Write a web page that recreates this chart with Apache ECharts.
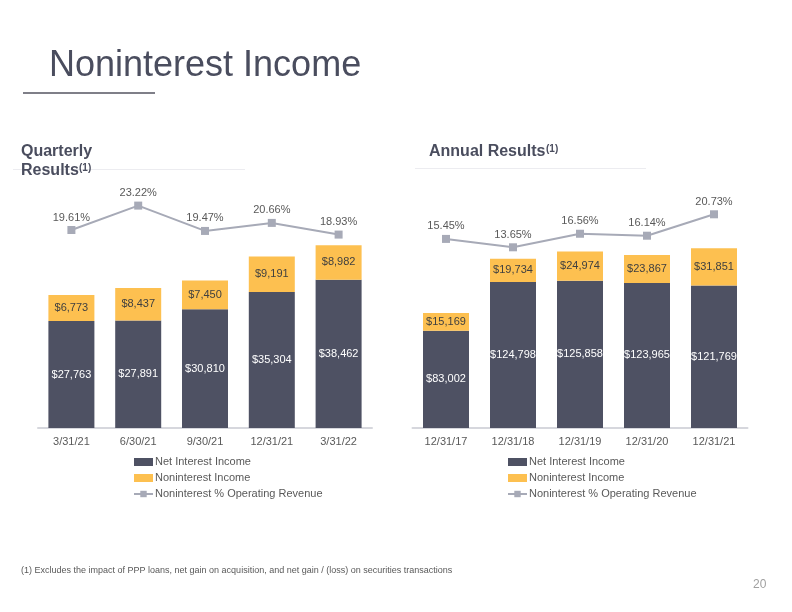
<!DOCTYPE html>
<html>
<head>
<meta charset="utf-8">
<script src="https://cdn.jsdelivr.net/npm/echarts@6/dist/echarts.min.js"></script>
<style>
html,body{margin:0;padding:0;background:#fff;}
#c{width:792px;height:612px;}
</style>
</head>
<body>
<div id="c"></div>
<script>
// Quarterly data
var qCategories = ['3/31/21', '6/30/21', '9/30/21', '12/31/21', '3/31/22'];
var qNetInterest = [27763, 27891, 30810, 35304, 38462];
var qNoninterest = [6773, 8437, 7450, 9191, 8982];
var qPct = [19.61, 23.22, 19.47, 20.66, 18.93];

// Annual data
var aCategories = ['12/31/17', '12/31/18', '12/31/19', '12/31/20', '12/31/21'];
var aNetInterest = [83002, 124798, 125858, 123965, 121769];
var aNoninterest = [15169, 19734, 24974, 23867, 31851];
var aPct = [15.45, 13.65, 16.56, 16.14, 20.73];

var seriesNames = ['Net Interest Income', 'Noninterest Income', 'Noninterest % Operating Revenue'];

var DARK = '#4E5163';
var YELLOW = '#FDC050';
var LINE = '#A7AAB7';
var TXT = '#595959';
var FONT = 'Liberation Sans, Arial, sans-serif';

function money(p) { return '$' + p.value.toLocaleString('en-US'); }
function pct(p) { return p.value.toFixed(2) + '%'; }

function xAxis(grid, cats) {
  return {
    type: 'category', gridIndex: grid, data: cats,
    axisLine: { lineStyle: { color: '#D6D7DD', width: 2 } },
    axisTick: { show: false },
    axisLabel: { color: TXT, fontSize: 11, fontFamily: FONT, margin: 8 }
  };
}
function yAxis(grid, min, max) {
  return { type: 'value', gridIndex: grid, min: min, max: max, show: false, splitLine: { show: false } };
}
function bars(xi, yi, data, color, labelColor, z) {
  return {
    type: 'bar', name: seriesNames[z], xAxisIndex: xi, yAxisIndex: yi, stack: 's' + xi,
    data: data, barWidth: 46,
    itemStyle: { color: color },
    label: { show: true, position: 'inside', formatter: money, color: labelColor, fontSize: 11, fontFamily: FONT },
    animation: false
  };
}
function line(xi, yi, data) {
  return {
    type: 'line', name: seriesNames[2], xAxisIndex: xi, yAxisIndex: yi, data: data,
    symbol: 'rect', symbolSize: 8,
    lineStyle: { color: LINE, width: 2 },
    itemStyle: { color: LINE },
    label: { show: true, position: 'top', distance: 3, formatter: pct, color: TXT, fontSize: 11, fontFamily: FONT },
    animation: false, z: 5
  };
}
function legend(left) {
  return {
    orient: 'vertical', left: left, top: 450, itemWidth: 19, itemHeight: 8, itemGap: 2,
    data: [
      { name: seriesNames[0], icon: 'rect' },
      { name: seriesNames[1], icon: 'rect' },
      { name: seriesNames[2] }
    ],
    textStyle: { color: TXT, fontSize: 11, fontFamily: FONT, padding: [0, 0, 0, -3], lineHeight: 14 },
    selectedMode: false
  };
}

var chart = echarts.init(document.getElementById('c'), null, { renderer: 'canvas' });
chart.setOption({
  backgroundColor: '#fff',
  animation: false,
  grid: [
    { left: 38, top: 177.5, width: 334, height: 250.5 },
    { left: 412.5, top: 177.5, width: 335, height: 250.5 }
  ],
  xAxis: [xAxis(0, qCategories), xAxis(1, aCategories)],
  yAxis: [yAxis(0, 0, 65000), yAxis(0, -9.7, 27.38), yAxis(1, 0, 214000), yAxis(1, -25.13, 28.63)],
  legend: [legend(128), legend(502)],
  series: [
    bars(0, 0, qNetInterest, DARK, '#FFFFFF', 0),
    bars(0, 0, qNoninterest, YELLOW, '#404040', 1),
    line(0, 1, qPct),
    bars(1, 2, aNetInterest, DARK, '#FFFFFF', 0),
    bars(1, 2, aNoninterest, YELLOW, '#404040', 1),
    line(1, 3, aPct)
  ],
  graphic: [
    { type: 'text', left: 49, top: 48, style: { text: 'Noninterest Income', font: '36px ' + FONT, fill: '#4A4D5E' } },
    { type: 'rect', shape: { x: 23, y: 92, width: 132, height: 2 }, style: { fill: '#7F7F88' } },
    { type: 'line', shape: { x1: 13, y1: 169.5, x2: 245, y2: 169.5 }, style: { stroke: '#ECECF0', lineWidth: 1 } },
    { type: 'line', shape: { x1: 415, y1: 168.5, x2: 646, y2: 168.5 }, style: { stroke: '#ECECF0', lineWidth: 1 } },
    { type: 'text', x: 21, y: 151.5, style: { text: 'Quarterly', font: 'bold 16px ' + FONT, fill: '#4A4D5E', textVerticalAlign: 'middle' } },
    { type: 'text', x: 21, y: 171, style: { text: 'Results', font: 'bold 16px ' + FONT, fill: '#4A4D5E', textVerticalAlign: 'middle' } },
    { type: 'text', x: 79, y: 168.5, style: { text: '(1)', font: 'bold 10px ' + FONT, fill: '#4A4D5E', textVerticalAlign: 'middle' } },
    { type: 'text', x: 429, y: 151.5, style: { text: 'Annual Results', font: 'bold 16px ' + FONT, fill: '#4A4D5E', textVerticalAlign: 'middle' } },
    { type: 'text', x: 546, y: 149.5, style: { text: '(1)', font: 'bold 10px ' + FONT, fill: '#4A4D5E', textVerticalAlign: 'middle' } },
    { type: 'text', x: 21, y: 570.5, style: { text: '(1) Excludes the impact of PPP loans, net gain on acquisition, and net gain / (loss) on securities transactions', font: '9px ' + FONT, fill: TXT, textVerticalAlign: 'middle' } },
    { type: 'text', x: 753, y: 585, style: { text: '20', font: '12px ' + FONT, fill: '#A0A0A0', textVerticalAlign: 'middle' } }
  ]
});
</script>
</body>
</html>
